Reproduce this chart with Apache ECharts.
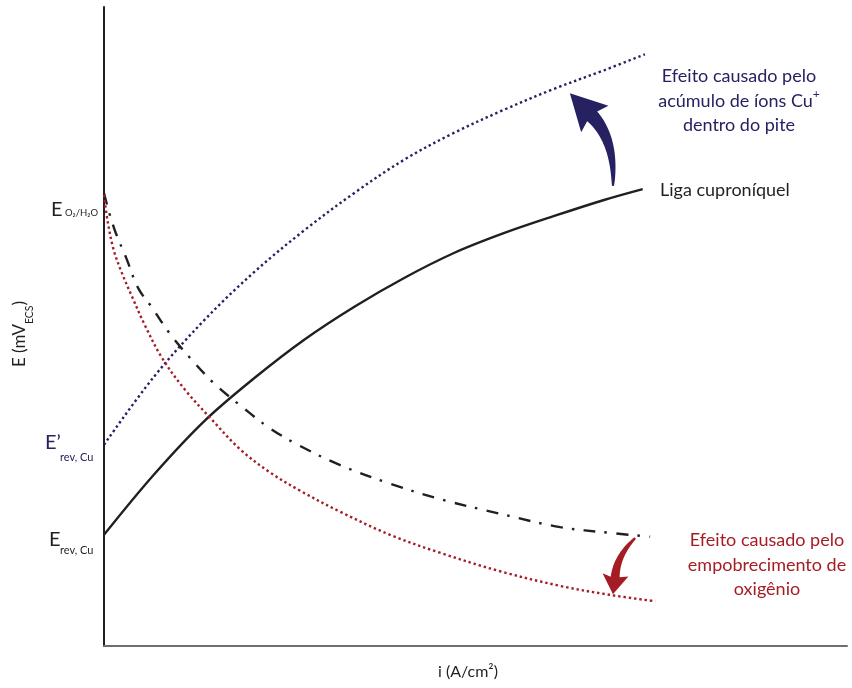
<!DOCTYPE html>
<html>
<head>
<meta charset="utf-8">
<script src="https://cdn.jsdelivr.net/npm/echarts@6/dist/echarts.min.js"></script>
<style>
  html, body { margin: 0; padding: 0; background: #fff; }
  #chart { width: 852px; height: 688px; }
</style>
</head>
<body>
<div id="chart"></div>
<script>
// Polarization curves, E vs i (relative units, 0-100 on both axes)
const ligaCuproniquel = [[0,17.4],[6.7,26.8],[13.5,35.2],[20.2,41.9],[26.9,47.9],[33.7,53.1],[40.4,57.6],[47.1,61.5],[53.8,64.6],[60.6,67.3],[67.3,69.8],[72.5,71.5]];
const acumuloCu = [[0,31.5],[6.7,42.1],[13.5,51.0],[20.2,58.5],[26.9,65.0],[33.7,70.9],[40.4,76.1],[47.1,80.3],[53.8,83.9],[60.6,87.2],[67.3,90.1],[72.8,92.6]];
const catodicaO2 = [[0,70.9],[0.7,67.8],[1.6,64.6],[3.0,60.7],[4.6,56.0],[6.5,52.9],[8.9,48.8],[11.8,44.8],[14.9,41.0],[18.6,37.4],[22.3,34.1],[26.4,31.3],[31.8,28.3],[38.5,25.4],[45.2,23.0],[53.3,20.7],[61.4,18.6],[68.1,17.7],[73.5,17.1]];
const empobrecidoO2 = [[0,70.6],[0.5,66.4],[1.3,62.0],[2.4,58.4],[3.8,54.6],[5.5,50.2],[7.8,45.1],[10.9,40.1],[14.3,35.7],[18.3,30.8],[22.3,27.2],[26.4,24.3],[31.8,21.0],[38.5,17.4],[45.2,14.6],[53.3,11.7],[61.4,9.4],[68.1,8.0],[74.2,7.0]];

// Curved arrows: tail, bend control, head base, tip (data units)
const arrowCu = [[68.5,72.0],[68.8,79.2],[65.7,82.9],[62.7,86.5]];
const arrowO2 = [[71.5,16.9],[69.0,14.1],[68.8,10.8],[68.5,8.1]];

const BLACK = '#231f20';
const NAVY = '#262262';
const CRIMSON = '#a51d24';
const FONT = 'Lato, "Open Sans", sans-serif';

const chart = echarts.init(document.getElementById('chart'), null, { renderer: 'canvas' });

const curve = (name, data, color, type) => ({
  name, type: 'line', data, symbol: 'none',
  smooth: 0.35,
  lineStyle: { color, width: 2.4, type: type || 'solid' }
});

chart.setOption({
  animation: false,
  backgroundColor: '#fff',
  grid: { left: 104, right: 5, top: 7, bottom: 42 },
  xAxis: {
    type: 'value', min: 0, max: 100,
    axisLine: { show: true, lineStyle: { color: '#6d6e70', width: 2 } },
    axisTick: { show: false }, axisLabel: { show: false }, splitLine: { show: false }
  },
  yAxis: {
    type: 'value', min: 0, max: 100,
    axisLine: { show: true, lineStyle: { color: BLACK, width: 2 } },
    axisTick: { show: false }, axisLabel: { show: false }, splitLine: { show: false }
  },
  series: [
    curve('Liga cuproníquel', ligaCuproniquel, BLACK),
    curve('Acúmulo de íons Cu+', acumuloCu, NAVY, [2.4, 2.9]),
    curve('Reação catódica', catodicaO2, BLACK, [12, 9, 2.5, 9.5]),
    curve('Empobrecimento de oxigênio', empobrecidoO2, CRIMSON, [2.4, 2.9])
  ]
});

// Tapered curved arrow built along a quadratic Bézier from tail to head base
function curvedArrow(pts, w0, w1, headHalf) {
  const [T, C, B, H] = pts.map(p => chart.convertToPixel({ gridIndex: 0 }, p));
  const left = [], right = [];
  const n = 24;
  for (let i = 0; i <= n; i++) {
    const t = i / n;
    const px = (1 - t) * (1 - t) * T[0] + 2 * (1 - t) * t * C[0] + t * t * B[0];
    const py = (1 - t) * (1 - t) * T[1] + 2 * (1 - t) * t * C[1] + t * t * B[1];
    const dx = 2 * (1 - t) * (C[0] - T[0]) + 2 * t * (B[0] - C[0]);
    const dy = 2 * (1 - t) * (C[1] - T[1]) + 2 * t * (B[1] - C[1]);
    const len = Math.hypot(dx, dy) || 1;
    const nx = -dy / len, ny = dx / len;
    const w = (w0 + (w1 - w0) * Math.pow(t, 0.8)) / 2;
    left.push([px + nx * w, py + ny * w]);
    right.push([px - nx * w, py - ny * w]);
  }
  const hx = H[0] - B[0], hy = H[1] - B[1];
  const hl = Math.hypot(hx, hy) || 1;
  const nx = -hy / hl, ny = hx / hl;
  const back = 0.12;
  const wingL = [B[0] + nx * headHalf - hx * back, B[1] + ny * headHalf - hy * back];
  const wingR = [B[0] - nx * headHalf - hx * back, B[1] - ny * headHalf - hy * back];
  return left.concat([wingL, H, wingR], right.reverse());
}

function textEl(text, x, y, size, color, align, vAlign, lineHeight, rich) {
  const style = {
    text, x, y, fill: color,
    fontSize: size, fontFamily: FONT,
    align: align || 'left', textAlign: align || 'left',
    verticalAlign: vAlign || 'middle', textVerticalAlign: vAlign || 'middle',
    lineHeight: lineHeight || size * 1.2
  };
  if (rich) style.rich = rich;
  return { type: 'text', silent: true, style };
}

const supRich = (color) => ({
  n: { fill: color, fontSize: 18, fontFamily: FONT, lineHeight: 24.5, verticalAlign: 'middle' },
  p: { fill: color, fontSize: 12, fontFamily: FONT, lineHeight: 12, verticalAlign: 'top' }
});

// Vertical axis title E (mV_ECS), laid out piece by piece along the rotated baseline
const measureCtx = document.createElement('canvas').getContext('2d');
function textWidth(str, size) {
  measureCtx.font = size + 'px ' + FONT;
  return measureCtx.measureText(str).width;
}
const yTitleParts = [
  { text: 'E (mV', size: 17, shift: 0 },
  { text: 'ECS', size: 10.5, shift: 10 },
  { text: ')', size: 17, shift: 0 }
];
const yTitleWidth = yTitleParts.reduce((s, p) => s + textWidth(p.text, p.size), 0);
let cursor = -yTitleWidth / 2;
const yTitleChildren = yTitleParts.map(p => {
  const el = textEl(p.text, cursor, p.shift, p.size, BLACK, 'left', 'middle');
  cursor += textWidth(p.text, p.size);
  return el;
});

chart.setOption({
  graphic: [
    { type: 'polygon', silent: true, shape: { points: curvedArrow(arrowCu, 2, 14, 19) }, style: { fill: NAVY } },
    { type: 'polygon', silent: true, shape: { points: curvedArrow(arrowO2, 2, 9, 13) }, style: { fill: CRIMSON } },

    textEl('{n|Efeito causado pelo}\n{n|acúmulo de íons Cu}{p|+}\n{n|dentro do pite}', 739, 64, 18, NAVY, 'center', 'top', 24.5, supRich(NAVY)),
    textEl('Liga cuproníquel', 660, 190, 18, BLACK, 'left', 'middle'),
    textEl('Efeito causado pelo\nempobrecimento de\noxigênio', 767, 528, 18, CRIMSON, 'center', 'top', 24.5),

    textEl('i (A/cm²)', 468, 672, 16, BLACK, 'center', 'middle'),
    { type: 'group', x: 20, y: 334, rotation: Math.PI / 2, silent: true, children: yTitleChildren },

    textEl('E', 51, 210, 20, BLACK, 'left', 'middle'),
    textEl('O₂/H₂O', 65, 213, 9.5, BLACK, 'left', 'middle'),
    textEl('E’', 45, 443, 20, NAVY, 'left', 'middle'),
    textEl('rev, Cu', 60, 457, 11, NAVY, 'left', 'middle'),
    textEl('E', 49, 540, 20, BLACK, 'left', 'middle'),
    textEl('rev, Cu', 60, 550, 11, BLACK, 'left', 'middle')
  ]
});
</script>
</body>
</html>
